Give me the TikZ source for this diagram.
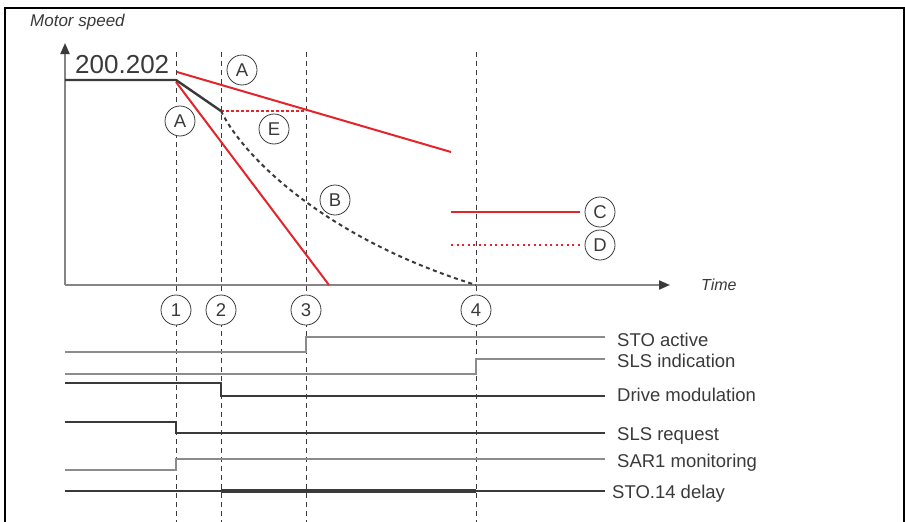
\documentclass[tikz,border=0pt]{standalone}
\usepackage{fontspec}
\setsansfont{Liberation Sans}
\usepackage{tikz}
\usetikzlibrary{arrows.meta}
\definecolor{abbred}{HTML}{E3242B}
\definecolor{ink}{HTML}{3A3A3A}
\definecolor{axisgray}{HTML}{858585}
\definecolor{wavegray}{HTML}{8C8C8C}

\begin{document}
\begin{tikzpicture}[
  x=1pt, y=-1pt,
  every node/.style={font=\sffamily, text=ink},
  marker/.style={
    circle, draw=ink, fill=white, line width=0.8pt,
    minimum size=30pt, inner sep=0pt,
    font=\sffamily\fontsize{18.5}{18}\selectfont,
  },
  guide/.style={ink, line width=0.9pt, dash pattern=on 5pt off 4pt},
  axis/.style={axisgray, line width=2pt, -{Triangle[length=11pt,width=9pt,color=ink]}},
  ramp/.style={abbred, line width=2pt},
  speed/.style={ink, line width=2.4pt},
  wave/.style={wavegray, line width=1.4pt},
  wavedark/.style={ink, line width=1.2pt},
  siglbl/.style={anchor=base west, inner sep=0pt, font=\sffamily\fontsize{18.5}{20}\selectfont},
]
  \useasboundingbox (0,0) rectangle (905,522);
  \draw[black, line width=1.5pt] (5,522) -- (5,8) -- (904,8) -- (904,522);

  % Time instants
  \foreach \n/\x in {1/176, 2/221, 3/306, 4/476} {
    \draw[guide] (\x,52) -- (\x,522);
    \node[marker] (t\n) at (\x,310) {\n};
  }

  % Speed plot
  \coordinate (origin) at (65,285);
  \coordinate (brk)    at (176,80);
  \coordinate (mod)    at (221,111);
  \coordinate (stop)   at (476,285);
  \draw[axis] (origin) -- (65,43);
  \draw[axis] (origin) -- (670,285);
  \node[anchor=base west, inner sep=0pt, font=\sffamily\itshape\fontsize{17}{18}\selectfont] (ylbl) at (30,27) {Motor speed};
  \node[anchor=base west, inner sep=0pt, font=\sffamily\itshape\fontsize{16}{18}\selectfont] (xlbl) at (701,290) {Time};
  \node[anchor=base west, inner sep=0pt, font=\sffamily\fontsize{26}{28}\selectfont] (vmax) at (75,73) {200.202};

  \node[marker] (aUp)  at (242,70)  {A};
  \node[marker] (aLow) at (180,121) {A};
  \node[marker] (mkE)  at (274,129) {E};
  \node[marker] (mkB)  at (335,200) {B};
  \node[marker] (mkC)  at (600,212) {C};
  \node[marker] (mkD)  at (600,245) {D};

  \draw[ramp] (177,72) -- (451,152);
  \draw[ramp] (176,82) -- (329,285);
  \draw[ramp, dash pattern=on 3pt off 2pt] (mod) -- (306,111);
  \draw[ramp] (451,212) -- ([xshift=-5pt]mkC.west);
  \draw[ramp, line width=1.8pt, dash pattern=on 2pt off 3.5pt] (451,245) -- ([xshift=-5pt]mkD.west);
  \draw[ink, line width=2pt, dash pattern=on 4pt off 3.5pt] (mod) .. controls (245,160) and (330,240) .. (stop);
  \draw[speed] (65,80) -- (brk) -- (mod);

  % Signals
  \draw[wave]     (65,352) -| (306,337) -- (605,337);
  \draw[wave]     (65,374) -| (476,359) -- (605,359);
  \draw[wavedark] (65,383) -| (221,396) -- (605,396);
  \draw[wavedark] (65,422) -| (176,433) -- (605,433);
  \draw[wave]     (65,470) -| (176,459) -- (605,459);
  \draw[wavedark] (65,491) -- (605,491);
  \draw[ink, line width=4pt] (221,491) -- (476,491);

  \node[siglbl] (stoAct) at (617,346) {STO active};
  \node[siglbl] (slsInd) at (617,367) {SLS indication};
  \node[siglbl] (drvMod) at (617,401) {Drive modulation};
  \node[siglbl] (slsReq) at (617,440) {SLS request};
  \node[siglbl] (sarMon) at (617,467) {SAR1 monitoring};
  \node[siglbl] (stoDly) at (612,498) {STO.14 delay};
\end{tikzpicture}
\end{document}
